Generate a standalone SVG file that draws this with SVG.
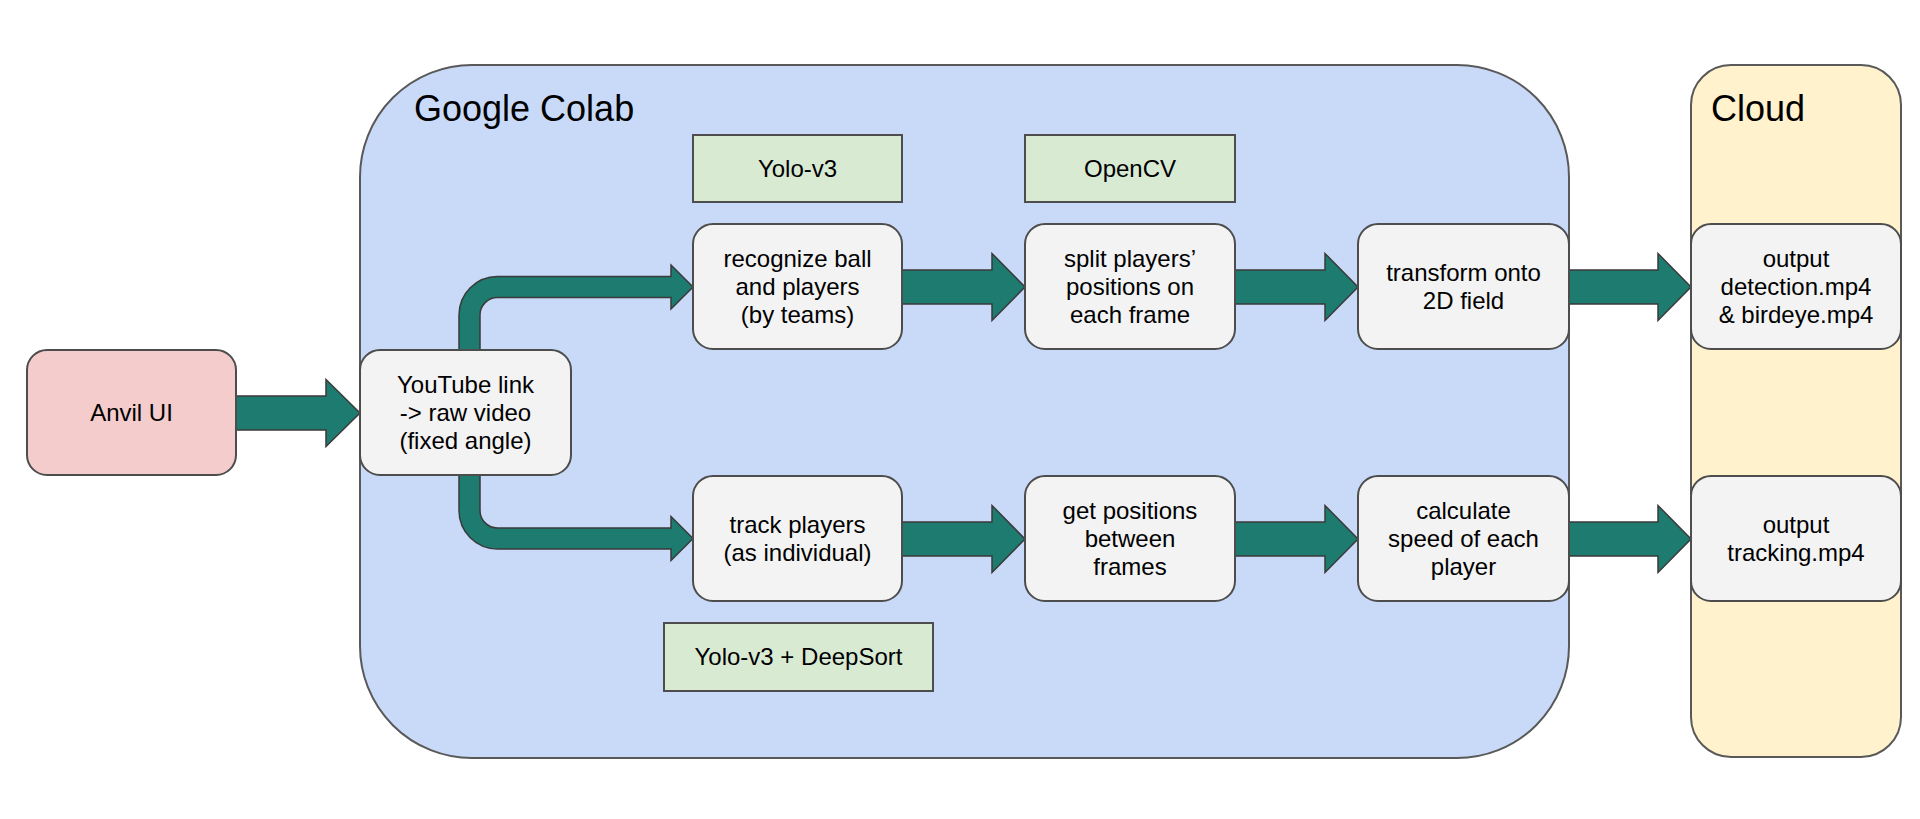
<svg xmlns="http://www.w3.org/2000/svg" width="1920" height="819" viewBox="0 0 1920 819">
<style>
text{font-family:"Liberation Sans",Arial,sans-serif;fill:#000;text-anchor:middle}
.t{font-size:24px}
.h{font-size:36px;text-anchor:start}
.node{fill:#f3f3f3;stroke:#4d4d4d;stroke-width:2}
.tool{fill:#d9ead3;stroke:#4d4d4d;stroke-width:2}
.arr{fill:#1e7b6f;stroke:#3a3a3a;stroke-width:1.5;stroke-linejoin:miter}
</style>
<rect width="1920" height="819" fill="#fff"/>
<g id="colab">
<rect x="360" y="65" width="1209" height="693" rx="112" ry="112" fill="#c9daf8" stroke="#595959" stroke-width="2"/>
<text class="h" x="414" y="121">Google Colab</text>
</g>
<g id="cloud">
<rect x="1691" y="65" width="210" height="692" rx="40" ry="40" fill="#fff2cc" stroke="#595959" stroke-width="2"/>
<text class="h" x="1711" y="121">Cloud</text>
</g>
<g id="connectors">
<path class="arr" d="M236,396 L326,396 L326,379.5 L360,413 L326,446.5 L326,430 L236,430 Z"/>
<path class="arr" d="M459,350 L459,315 A38.5,38.5 0 0 1 497.5,276.5 L671,276.5 L671,265 L693,287 L671,309 L671,297.5 L497.5,297.5 A17.5,17.5 0 0 0 480,315 L480,350 Z"/>
<path class="arr" d="M459,475 L459,510.5 A38.5,38.5 0 0 0 497.5,549 L671,549 L671,560.5 L693,538.5 L671,516.5 L671,528 L497.5,528 A17.5,17.5 0 0 1 480,510.5 L480,475 Z"/>
<path class="arr" d="M902,270 L992,270 L992,253.5 L1025,287 L992,320.5 L992,304 L902,304 Z"/>
<path class="arr" d="M1235,270 L1325,270 L1325,253.5 L1358,287 L1325,320.5 L1325,304 L1235,304 Z"/>
<path class="arr" d="M1569,270 L1658,270 L1658,253.5 L1691,287 L1658,320.5 L1658,304 L1569,304 Z"/>
<path class="arr" d="M902,522 L992,522 L992,505.5 L1025,539 L992,572.5 L992,556 L902,556 Z"/>
<path class="arr" d="M1235,522 L1325,522 L1325,505.5 L1358,539 L1325,572.5 L1325,556 L1235,556 Z"/>
<path class="arr" d="M1569,522 L1658,522 L1658,505.5 L1691,539 L1658,572.5 L1658,556 L1569,556 Z"/>
</g>
<g id="anvil">
<rect x="27" y="350" width="209" height="125" rx="20" fill="#f4cccc" stroke="#4d4d4d" stroke-width="2"/>
<text class="t" x="131.5" y="421">Anvil UI</text>
</g>
<g id="youtube">
<rect class="node" x="360" y="350" width="211" height="125" rx="20"/>
<text class="t" x="465.5" y="393">YouTube link</text>
<text class="t" x="465.5" y="421">-&gt; raw video</text>
<text class="t" x="465.5" y="449">(fixed angle)</text>
</g>
<g id="yolo">
<rect class="tool" x="693" y="135" width="209" height="67"/>
<text class="t" x="797.5" y="177">Yolo-v3</text>
</g>
<g id="opencv">
<rect class="tool" x="1025" y="135" width="210" height="67"/>
<text class="t" x="1130" y="177">OpenCV</text>
</g>
<g id="deepsort">
<rect class="tool" x="664" y="623" width="269" height="68"/>
<text class="t" x="798.5" y="665">Yolo-v3 + DeepSort</text>
</g>
<g id="recognize">
<rect class="node" x="693" y="224" width="209" height="125" rx="20"/>
<text class="t" x="797.5" y="267">recognize ball</text>
<text class="t" x="797.5" y="295">and players</text>
<text class="t" x="797.5" y="323">(by teams)</text>
</g>
<g id="split">
<rect class="node" x="1025" y="224" width="210" height="125" rx="20"/>
<text class="t" x="1130" y="267">split players’</text>
<text class="t" x="1130" y="295">positions on</text>
<text class="t" x="1130" y="323">each frame</text>
</g>
<g id="transform">
<rect class="node" x="1358" y="224" width="211" height="125" rx="20"/>
<text class="t" x="1463.5" y="281">transform onto</text>
<text class="t" x="1463.5" y="309">2D field</text>
</g>
<g id="output1">
<rect class="node" x="1691" y="224" width="210" height="125" rx="20"/>
<text class="t" x="1796" y="267">output</text>
<text class="t" x="1796" y="295">detection.mp4</text>
<text class="t" x="1796" y="323">&amp; birdeye.mp4</text>
</g>
<g id="track">
<rect class="node" x="693" y="476" width="209" height="125" rx="20"/>
<text class="t" x="797.5" y="533">track players</text>
<text class="t" x="797.5" y="561">(as individual)</text>
</g>
<g id="positions">
<rect class="node" x="1025" y="476" width="210" height="125" rx="20"/>
<text class="t" x="1130" y="519">get positions</text>
<text class="t" x="1130" y="547">between</text>
<text class="t" x="1130" y="575">frames</text>
</g>
<g id="speed">
<rect class="node" x="1358" y="476" width="211" height="125" rx="20"/>
<text class="t" x="1463.5" y="519">calculate</text>
<text class="t" x="1463.5" y="547">speed of each</text>
<text class="t" x="1463.5" y="575">player</text>
</g>
<g id="output2">
<rect class="node" x="1691" y="476" width="210" height="125" rx="20"/>
<text class="t" x="1796" y="533">output</text>
<text class="t" x="1796" y="561">tracking.mp4</text>
</g>
</svg>
